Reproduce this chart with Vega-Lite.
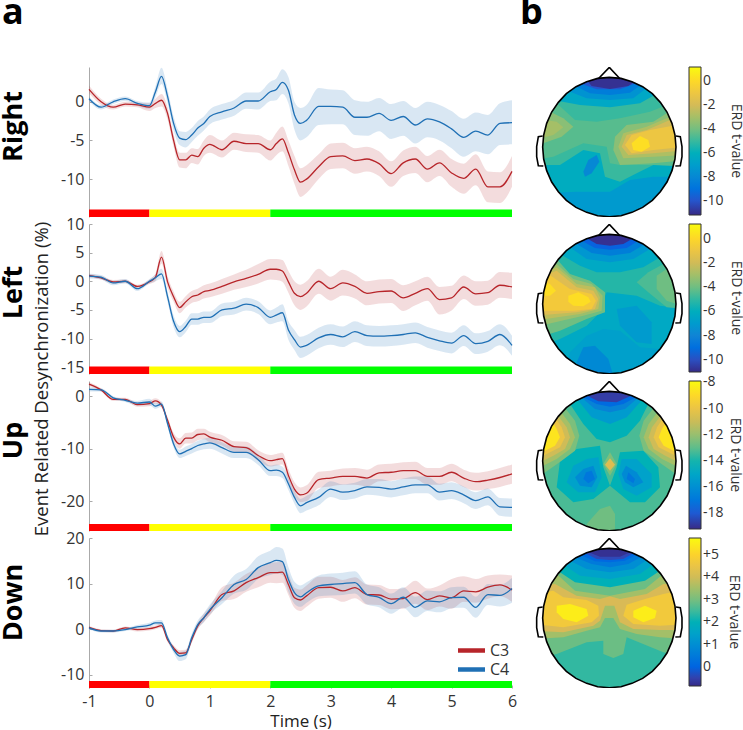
{"$schema":"https://vega.github.io/schema/vega-lite/v6.json","padding":{"left":-1,"top":-5,"right":0,"bottom":0},"background":"white","bounds":"flush","align":"each","columns":2,"spacing":{"row":7,"column":18},
"config":{"view":{"stroke":null},"font":"Open Sans","title":{"font":"Open Sans","fontWeight":"bold","fontSize":36,"color":"#000"},"axis":{"labelFont":"Open Sans","titleFont":"Open Sans","labelFontSize":16,"labelColor":"#333","titleColor":"#000","domainColor":"#aaa","tickColor":"#aaa","tickSize":-3,"grid":false,"labelPadding":8},"legend":{"labelFont":"Open Sans","titleFont":"Open Sans"}},
"datasets":{
"st":[{"s":-1,"e":0,"c":"#ff0000"},{"s":0,"e":2,"c":"#ffff00"},{"s":2,"e":6,"c":"#00ff00"}],
"mask":[{"type":"Feature","properties":{},"geometry":{"type":"Polygon","coordinates":[[[33,43],[33,487],[503,487],[503,43],[33,43]],[[468,265],[465,301],[456,336],[441,370],[421,399],[397,425],[368,446],[336,461],[303,471],[268,474],[233,471],[200,461],[168,446],[139,425],[115,399],[95,370],[80,336],[71,301],[68,265],[71,229],[80,194],[95,160],[115,131],[139,105],[168,84],[200,69],[233,59],[268,56],[303,59],[336,69],[368,84],[397,105],[421,131],[441,160],[456,194],[465,229],[468,265]]]}}],
"head":[{"type":"Feature","properties":{},"geometry":{"type":"LineString","coordinates":[[468,265],[465,301],[456,336],[441,370],[421,399],[397,425],[368,446],[336,461],[303,471],[268,474],[233,471],[200,461],[168,446],[139,425],[115,399],[95,370],[80,336],[71,301],[68,265],[71,229],[80,194],[95,160],[115,131],[139,105],[168,84],[200,69],[233,59],[268,56],[303,59],[336,69],[368,84],[397,105],[421,131],[441,160],[456,194],[465,229],[468,265]]}},
{"type":"Feature","properties":{},"geometry":{"type":"LineString","coordinates":[[235,60],[268,26],[300,60]]}},
{"type":"Feature","properties":{},"geometry":{"type":"LineString","coordinates":[[68,232],[55,234],[50,264],[50,294],[55,321],[70,322]]}},
{"type":"Feature","properties":{},"geometry":{"type":"LineString","coordinates":[[468,232],[481,234],[486,264],[486,294],[481,321],[466,322]]}}],
"right":[{"t":-1,"a":1.6,"al":1.1,"ah":2.1,"b":0.4,"bl":0.1,"bh":0.7},{"t":-0.8,"a":0,"al":-0.4,"ah":0.4,"b":-0.7,"bl":-1,"bh":-0.4},{"t":-0.6,"a":-0.7,"al":-1,"ah":-0.4,"b":0,"bl":-0.3,"bh":0.3},{"t":-0.4,"a":-0.3,"al":-0.6,"ah":0,"b":0.4,"bl":0.1,"bh":0.7},{"t":-0.2,"a":-0.4,"al":-0.7,"ah":-0.1,"b":-0.2,"bl":-0.5,"bh":0.1},{"t":0,"a":-0.7,"al":-1.2,"ah":-0.2,"b":-0.5,"bl":-0.9,"bh":-0.1},{"t":0.1,"a":-0.2,"al":-0.8,"ah":0.4,"b":1.3,"bl":0.6,"bh":2},{"t":0.2,"a":0.2,"al":-0.6,"ah":1,"b":3.3,"bl":2.3,"bh":4.4},{"t":0.3,"a":-1.5,"al":-2.3,"ah":-0.7,"b":0.7,"bl":-0.2,"bh":1.6},{"t":0.4,"a":-5,"al":-5.8,"ah":-4.2,"b":-2.8,"bl":-3.7,"bh":-1.9},{"t":0.5,"a":-7.5,"al":-8.5,"ah":-6.6,"b":-4.7,"bl":-5.6,"bh":-3.8},{"t":0.6,"a":-7.5,"al":-8.6,"ah":-6.6,"b":-4.9,"bl":-5.9,"bh":-3.9},{"t":0.7,"a":-6.9,"al":-7.9,"ah":-6,"b":-4.3,"bl":-5.2,"bh":-3.4},{"t":0.8,"a":-7.1,"al":-8.1,"ah":-6.1,"b":-3.4,"bl":-4.4,"bh":-2.5},{"t":0.9,"a":-6,"al":-7,"ah":-5,"b":-2.8,"bl":-3.7,"bh":-1.9},{"t":1,"a":-5.5,"al":-6.6,"ah":-4.3,"b":-1.9,"bl":-2.9,"bh":-1},{"t":1.2,"a":-6.2,"al":-7.2,"ah":-5,"b":-1.3,"bl":-2.3,"bh":-0.3},{"t":1.4,"a":-5.1,"al":-6.2,"ah":-4,"b":-0.8,"bl":-1.8,"bh":0.2},{"t":1.6,"a":-5.4,"al":-6.5,"ah":-4.2,"b":0.1,"bl":-0.9,"bh":1.2},{"t":1.8,"a":-5.4,"al":-6.6,"ah":-4.3,"b":0.1,"bl":-1,"bh":1.2},{"t":2,"a":-6.2,"al":-7.6,"ah":-5,"b":1.3,"bl":0.1,"bh":2.6},{"t":2.1,"a":-5.4,"al":-6.9,"ah":-4,"b":1.6,"bl":0.2,"bh":3},{"t":2.2,"a":-4.8,"al":-6.4,"ah":-3.2,"b":2.5,"bl":1,"bh":4.2},{"t":2.3,"a":-6.6,"al":-8.3,"ah":-5,"b":1.5,"bl":-0.2,"bh":3.2},{"t":2.4,"a":-8.8,"al":-10.6,"ah":-7,"b":-1.7,"bl":-3.6,"bh":0},{"t":2.5,"a":-10.4,"al":-12.3,"ah":-8.6,"b":-2.8,"bl":-5,"bh":-0.8},{"t":2.6,"a":-10,"al":-11.8,"ah":-8.2,"b":-2.4,"bl":-4.6,"bh":-0.4},{"t":2.8,"a":-8.4,"al":-10,"ah":-6.8,"b":-0.6,"bl":-3,"bh":1.8},{"t":3,"a":-7.1,"al":-8.7,"ah":-5.4,"b":-0.6,"bl":-2.9,"bh":1.6},{"t":3.2,"a":-7,"al":-8.6,"ah":-5.3,"b":-0.7,"bl":-2.9,"bh":1.5},{"t":3.4,"a":-7.6,"al":-9.3,"ah":-6,"b":-2,"bl":-4.3,"bh":0.2},{"t":3.6,"a":-7.4,"al":-9,"ah":-5.8,"b":-2,"bl":-4.4,"bh":0},{"t":3.8,"a":-8,"al":-9.6,"ah":-6.4,"b":-1.5,"bl":-3.8,"bh":0.5},{"t":4,"a":-9.3,"al":-11,"ah":-7.7,"b":-2.4,"bl":-4.8,"bh":-0.3},{"t":4.2,"a":-7.9,"al":-9.6,"ah":-6.3,"b":-1.9,"bl":-4.4,"bh":0.1},{"t":4.4,"a":-7.4,"al":-9.2,"ah":-5.8,"b":-3,"bl":-5.4,"bh":-0.8},{"t":4.6,"a":-8.7,"al":-10.4,"ah":-7,"b":-2.2,"bl":-4.6,"bh":0},{"t":4.8,"a":-7.9,"al":-9.6,"ah":-6.2,"b":-2.6,"bl":-5,"bh":-0.4},{"t":5,"a":-9.2,"al":-11,"ah":-7.4,"b":-3.5,"bl":-6,"bh":-1.2},{"t":5.2,"a":-9.9,"al":-11.9,"ah":-8,"b":-4.6,"bl":-7.1,"bh":-2.2},{"t":5.4,"a":-8.7,"al":-10.8,"ah":-6.8,"b":-3.8,"bl":-6.4,"bh":-1.4},{"t":5.6,"a":-11,"al":-13,"ah":-9,"b":-4.3,"bl":-6.8,"bh":-1.7},{"t":5.8,"a":-11,"al":-13.1,"ah":-9.1,"b":-2.8,"bl":-5.6,"bh":-0.2},{"t":6,"a":-9,"al":-11,"ah":-7,"b":-2.7,"bl":-5.5,"bh":0.2}],
"left":[{"t":-1,"a":1,"al":0.7,"ah":1.3,"b":0.9,"bl":0.5,"bh":1.3},{"t":-0.8,"a":0.6,"al":0.3,"ah":0.9,"b":0.7,"bl":0.3,"bh":1.1},{"t":-0.6,"a":-0.1,"al":-0.4,"ah":0.2,"b":-0.3,"bl":-0.7,"bh":0.1},{"t":-0.4,"a":0,"al":-0.3,"ah":0.3,"b":0,"bl":-0.4,"bh":0.4},{"t":-0.2,"a":-0.9,"al":-1.2,"ah":-0.6,"b":-1.3,"bl":-1.7,"bh":-0.9},{"t":0,"a":-0.1,"al":-0.5,"ah":0.3,"b":0,"bl":-0.4,"bh":0.4},{"t":0.1,"a":0.7,"al":0,"ah":1.4,"b":0.6,"bl":0,"bh":1.2},{"t":0.2,"a":4.2,"al":3.1,"ah":5.3,"b":1.3,"bl":0.4,"bh":2.2},{"t":0.3,"a":-0.1,"al":-1.1,"ah":0.9,"b":-2.7,"bl":-3.6,"bh":-1.8},{"t":0.4,"a":-2.7,"al":-3.6,"ah":-1.8,"b":-7,"bl":-8,"bh":-6},{"t":0.5,"a":-4.6,"al":-5.6,"ah":-3.6,"b":-8.8,"bl":-9.8,"bh":-7.8},{"t":0.6,"a":-3.6,"al":-4.6,"ah":-2.6,"b":-7.9,"bl":-8.9,"bh":-6.9},{"t":0.7,"a":-2.7,"al":-3.8,"ah":-1.7,"b":-6.6,"bl":-7.6,"bh":-5.6},{"t":0.8,"a":-2.4,"al":-3.5,"ah":-1.3,"b":-6.6,"bl":-7.6,"bh":-5.6},{"t":0.9,"a":-1.8,"al":-3,"ah":-0.7,"b":-6.3,"bl":-7.3,"bh":-5.3},{"t":1,"a":-1.6,"al":-2.8,"ah":-0.4,"b":-6.3,"bl":-7.3,"bh":-5.3},{"t":1.2,"a":-0.9,"al":-2.2,"ah":0.4,"b":-5,"bl":-6.1,"bh":-3.9},{"t":1.4,"a":-0.1,"al":-1.5,"ah":1.2,"b":-4.7,"bl":-5.8,"bh":-3.6},{"t":1.6,"a":0.5,"al":-1,"ah":2,"b":-4,"bl":-5.1,"bh":-2.9},{"t":1.8,"a":1.2,"al":-0.4,"ah":3,"b":-4.6,"bl":-5.7,"bh":-3.5},{"t":2,"a":2.1,"al":0.3,"ah":3.9,"b":-6.3,"bl":-7.5,"bh":-5.1},{"t":2.1,"a":2.1,"al":0.2,"ah":3.9,"b":-5.9,"bl":-7.2,"bh":-4.6},{"t":2.2,"a":1.8,"al":-0.1,"ah":3.7,"b":-5.5,"bl":-7,"bh":-4},{"t":2.3,"a":-0.1,"al":-2,"ah":1.8,"b":-8.5,"bl":-10.2,"bh":-7},{"t":2.4,"a":-2.1,"al":-4.2,"ah":0,"b":-10.2,"bl":-12,"bh":-8.5},{"t":2.5,"a":-2.7,"al":-5,"ah":-0.6,"b":-11.5,"bl":-13.4,"bh":-9.7},{"t":2.6,"a":-2.1,"al":-4.4,"ah":0,"b":-11.2,"bl":-13,"bh":-9.4},{"t":2.8,"a":0,"al":-2.2,"ah":2.2,"b":-9.9,"bl":-11.7,"bh":-8.1},{"t":3,"a":-1.3,"al":-3.4,"ah":0.8,"b":-9.3,"bl":-11.1,"bh":-7.5},{"t":3.2,"a":-0.3,"al":-2.5,"ah":2,"b":-9.7,"bl":-11.5,"bh":-7.9},{"t":3.4,"a":-0.9,"al":-3,"ah":1.2,"b":-8.8,"bl":-10.6,"bh":-7},{"t":3.6,"a":-2.1,"al":-4.2,"ah":0,"b":-9.5,"bl":-11.3,"bh":-7.7},{"t":3.8,"a":-1.8,"al":-3.9,"ah":0.3,"b":-9.6,"bl":-11.4,"bh":-7.8},{"t":4,"a":-1.7,"al":-3.8,"ah":0.4,"b":-9.5,"bl":-11.3,"bh":-7.7},{"t":4.2,"a":-2.9,"al":-5.2,"ah":-0.7,"b":-9.3,"bl":-11.1,"bh":-7.5},{"t":4.4,"a":-2.1,"al":-4.2,"ah":0,"b":-9,"bl":-10.8,"bh":-7.2},{"t":4.6,"a":-1.3,"al":-3.4,"ah":0.8,"b":-9.8,"bl":-11.6,"bh":-8},{"t":4.8,"a":-3.2,"al":-5.8,"ah":-1,"b":-10.4,"bl":-12.2,"bh":-8.6},{"t":5,"a":-2.9,"al":-5.1,"ah":-0.8,"b":-10.8,"bl":-12.6,"bh":-9},{"t":5.2,"a":-1,"al":-3.1,"ah":1,"b":-9.5,"bl":-11.3,"bh":-7.7},{"t":5.4,"a":-2.2,"al":-4.3,"ah":0,"b":-10.9,"bl":-12.7,"bh":-9.1},{"t":5.6,"a":-2,"al":-4.1,"ah":0.1,"b":-10.5,"bl":-12.3,"bh":-8.7},{"t":5.8,"a":-0.7,"al":-2.9,"ah":1.6,"b":-9.3,"bl":-11.2,"bh":-7.5},{"t":6,"a":-1,"al":-3.1,"ah":1.5,"b":-11.2,"bl":-13,"bh":-9.5}],
"up":[{"t":-1,"a":2.3,"al":1.9,"ah":2.7,"b":1.3,"bl":0.9,"bh":1.7},{"t":-0.8,"a":1.2,"al":0.9,"ah":1.5,"b":1.2,"bl":0.9,"bh":1.5},{"t":-0.6,"a":-0.6,"al":-0.9,"ah":-0.3,"b":-0.3,"bl":-0.6,"bh":0},{"t":-0.4,"a":-0.6,"al":-0.9,"ah":-0.3,"b":-0.8,"bl":-1.1,"bh":-0.5},{"t":-0.2,"a":-1.6,"al":-2,"ah":-1.2,"b":-1.3,"bl":-1.7,"bh":-0.9},{"t":0,"a":-1.4,"al":-1.9,"ah":-0.9,"b":-1.1,"bl":-1.7,"bh":-0.5},{"t":0.1,"a":-0.9,"al":-1.4,"ah":-0.4,"b":-1.9,"bl":-2.4,"bh":-1.3},{"t":0.2,"a":-1.7,"al":-2.2,"ah":-1.2,"b":-1.5,"bl":-2,"bh":-1},{"t":0.3,"a":-4.6,"al":-5.2,"ah":-4,"b":-5.2,"bl":-5.8,"bh":-4.6},{"t":0.4,"a":-7.8,"al":-8.6,"ah":-7,"b":-9.1,"bl":-9.8,"bh":-8.4},{"t":0.5,"a":-9.1,"al":-10,"ah":-8,"b":-11,"bl":-11.8,"bh":-10.2},{"t":0.6,"a":-8,"al":-9,"ah":-7,"b":-10.5,"bl":-11.4,"bh":-9.6},{"t":0.7,"a":-8,"al":-9,"ah":-6.9,"b":-10,"bl":-10.9,"bh":-9.1},{"t":0.8,"a":-7.3,"al":-8.4,"ah":-6.2,"b":-9.4,"bl":-10.4,"bh":-8.5},{"t":0.9,"a":-7.2,"al":-8.2,"ah":-6.2,"b":-9.1,"bl":-10.1,"bh":-8.1},{"t":1,"a":-7.8,"al":-8.8,"ah":-6.8,"b":-8.9,"bl":-10,"bh":-7.9},{"t":1.2,"a":-8.4,"al":-9.4,"ah":-7.4,"b":-9.8,"bl":-10.9,"bh":-8.8},{"t":1.4,"a":-9.6,"al":-10.6,"ah":-8.6,"b":-10.7,"bl":-11.8,"bh":-9.7},{"t":1.6,"a":-9.8,"al":-10.8,"ah":-8.7,"b":-10.7,"bl":-11.8,"bh":-9.6},{"t":1.8,"a":-11.3,"al":-12.3,"ah":-10.3,"b":-12.1,"bl":-13.1,"bh":-11.1},{"t":2,"a":-12.3,"al":-13.4,"ah":-11.2,"b":-14.2,"bl":-15.2,"bh":-13.2},{"t":2.1,"a":-12.1,"al":-13.2,"ah":-11,"b":-14.1,"bl":-15.2,"bh":-13},{"t":2.2,"a":-11.9,"al":-13,"ah":-10.8,"b":-14.5,"bl":-15.6,"bh":-13.4},{"t":2.3,"a":-15.1,"al":-16.3,"ah":-13.9,"b":-16.7,"bl":-17.9,"bh":-15.5},{"t":2.4,"a":-17.7,"al":-19,"ah":-16.4,"b":-19.3,"bl":-20.5,"bh":-18},{"t":2.5,"a":-18.8,"al":-20.2,"ah":-17.4,"b":-20.9,"bl":-22.3,"bh":-19.6},{"t":2.6,"a":-18.5,"al":-20,"ah":-17,"b":-20.3,"bl":-21.8,"bh":-19},{"t":2.8,"a":-15.9,"al":-17.5,"ah":-14.4,"b":-19.3,"bl":-20.8,"bh":-17.8},{"t":3,"a":-15.6,"al":-17.2,"ah":-14.2,"b":-17.7,"bl":-19.2,"bh":-16.2},{"t":3.2,"a":-15.3,"al":-16.9,"ah":-13.8,"b":-18.3,"bl":-19.8,"bh":-16.8},{"t":3.4,"a":-15.3,"al":-16.9,"ah":-13.7,"b":-18,"bl":-19.5,"bh":-16.5},{"t":3.6,"a":-15.6,"al":-17.2,"ah":-14,"b":-17.3,"bl":-18.8,"bh":-15.8},{"t":3.8,"a":-14.6,"al":-16.2,"ah":-13,"b":-17.4,"bl":-19,"bh":-15.8},{"t":4,"a":-14.5,"al":-16.1,"ah":-12.9,"b":-17.7,"bl":-19.3,"bh":-16.2},{"t":4.2,"a":-14.2,"al":-15.8,"ah":-12.6,"b":-17.3,"bl":-18.9,"bh":-15.7},{"t":4.4,"a":-14.2,"al":-15.8,"ah":-12.5,"b":-16.9,"bl":-18.5,"bh":-15.3},{"t":4.6,"a":-15.3,"al":-16.9,"ah":-13.7,"b":-16.9,"bl":-18.5,"bh":-15.3},{"t":4.8,"a":-15.3,"al":-16.9,"ah":-13.7,"b":-18.3,"bl":-19.9,"bh":-16.7},{"t":5,"a":-14.5,"al":-16.2,"ah":-12.9,"b":-18,"bl":-19.6,"bh":-16.4},{"t":5.2,"a":-15.6,"al":-17.3,"ah":-14,"b":-18.8,"bl":-20.4,"bh":-17.2},{"t":5.4,"a":-16.3,"al":-18,"ah":-14.6,"b":-19.9,"bl":-21.5,"bh":-18.3},{"t":5.6,"a":-16,"al":-17.7,"ah":-14.3,"b":-19.2,"bl":-20.8,"bh":-17.6},{"t":5.8,"a":-15.5,"al":-17.3,"ah":-13.7,"b":-21.1,"bl":-22.8,"bh":-19.4},{"t":6,"a":-14.8,"al":-16.7,"ah":-13,"b":-21.2,"bl":-23,"bh":-19.5}],
"down":[{"t":-1,"a":0.4,"al":0.1,"ah":0.7,"b":0.3,"bl":0,"bh":0.6},{"t":-0.8,"a":-0.3,"al":-0.6,"ah":0,"b":-0.4,"bl":-0.7,"bh":-0.1},{"t":-0.6,"a":-0.4,"al":-0.7,"ah":-0.1,"b":-0.4,"bl":-0.7,"bh":-0.1},{"t":-0.4,"a":0.3,"al":0,"ah":0.6,"b":-0.1,"bl":-0.4,"bh":0.2},{"t":-0.2,"a":-0.1,"al":-0.5,"ah":0.3,"b":0.5,"bl":0.1,"bh":0.9},{"t":0,"a":0.1,"al":-0.3,"ah":0.5,"b":0.9,"bl":0.4,"bh":1.4},{"t":0.1,"a":0.4,"al":0,"ah":0.8,"b":1.4,"bl":0.9,"bh":1.9},{"t":0.2,"a":0.8,"al":0.3,"ah":1.3,"b":1.4,"bl":0.8,"bh":2},{"t":0.3,"a":-2.3,"al":-2.8,"ah":-1.8,"b":-1.9,"bl":-2.5,"bh":-1.3},{"t":0.4,"a":-4.1,"al":-4.7,"ah":-3.5,"b":-4.5,"bl":-5.2,"bh":-3.8},{"t":0.5,"a":-5.3,"al":-6,"ah":-4.6,"b":-5.9,"bl":-7,"bh":-5},{"t":0.6,"a":-5.2,"al":-5.9,"ah":-4.5,"b":-5.6,"bl":-6.6,"bh":-4.7},{"t":0.7,"a":-2.3,"al":-3,"ah":-1.6,"b":-1.9,"bl":-2.8,"bh":-1},{"t":0.8,"a":0.7,"al":0,"ah":1.4,"b":1,"bl":0.1,"bh":1.9},{"t":0.9,"a":2.5,"al":1.6,"ah":3.4,"b":2.5,"bl":1.5,"bh":3.5},{"t":1,"a":4,"al":3,"ah":5,"b":4.3,"bl":3.2,"bh":5.4},{"t":1.2,"a":7.6,"al":6.2,"ah":9.2,"b":6.9,"bl":5.5,"bh":8.4},{"t":1.4,"a":8.4,"al":6.6,"ah":10.2,"b":9.8,"bl":7.8,"bh":11.8},{"t":1.6,"a":10.2,"al":8.2,"ah":12.1,"b":10.9,"bl":8.6,"bh":13.2},{"t":1.8,"a":11.3,"al":9.2,"ah":13.3,"b":13.5,"bl":11,"bh":16},{"t":2,"a":12.4,"al":10.2,"ah":14.6,"b":14.6,"bl":11.9,"bh":17.2},{"t":2.1,"a":12.4,"al":10.1,"ah":14.7,"b":15.1,"bl":12.2,"bh":18},{"t":2.2,"a":12.5,"al":10.2,"ah":14.8,"b":14.8,"bl":11.9,"bh":17.7},{"t":2.3,"a":9.8,"al":7.5,"ah":12.1,"b":10.9,"bl":8.2,"bh":13.6},{"t":2.4,"a":6.9,"al":4.7,"ah":9.1,"b":8,"bl":5.6,"bh":10.4},{"t":2.5,"a":6.4,"al":4,"ah":8.7,"b":7.1,"bl":4.9,"bh":9.6},{"t":2.6,"a":7.3,"al":4.9,"ah":9.6,"b":8,"bl":5.8,"bh":10.3},{"t":2.8,"a":9.1,"al":6.7,"ah":11.5,"b":9.5,"bl":7.2,"bh":11.8},{"t":3,"a":9.2,"al":6.9,"ah":11.5,"b":9.8,"bl":7.4,"bh":12.2},{"t":3.2,"a":8.4,"al":6,"ah":10.8,"b":10,"bl":7.5,"bh":12.4},{"t":3.4,"a":9.1,"al":6.8,"ah":11.4,"b":10.2,"bl":7.8,"bh":12.7},{"t":3.6,"a":7.6,"al":5.4,"ah":9.8,"b":7.6,"bl":5.4,"bh":9.8},{"t":3.8,"a":7.5,"al":5.3,"ah":9.7,"b":7,"bl":4.8,"bh":9.2},{"t":4,"a":6.6,"al":4.4,"ah":8.8,"b":5.6,"bl":3.4,"bh":7.8},{"t":4.2,"a":6.7,"al":4.5,"ah":9,"b":7,"bl":4.7,"bh":9.2},{"t":4.4,"a":8,"al":5.6,"ah":10.6,"b":4.8,"bl":2.6,"bh":7.1},{"t":4.6,"a":6.5,"al":4.2,"ah":8.9,"b":6.2,"bl":4,"bh":8.5},{"t":4.8,"a":7.3,"al":5,"ah":9.6,"b":6,"bl":3.7,"bh":8.3},{"t":5,"a":6.9,"al":4.5,"ah":11,"b":6.9,"bl":4.6,"bh":9.2},{"t":5.2,"a":8.4,"al":6,"ah":11.6,"b":7,"bl":4.7,"bh":9.3},{"t":5.4,"a":8.2,"al":5.8,"ah":11,"b":4.8,"bl":2.5,"bh":7.1},{"t":5.6,"a":9.2,"al":6.7,"ah":11.8,"b":7.6,"bl":5.3,"bh":9.9},{"t":5.8,"a":9.7,"al":7.2,"ah":12,"b":7.4,"bl":5,"bh":9.8},{"t":6,"a":8.6,"al":6,"ah":11.8,"b":8.9,"bl":5.8,"bh":11.2}],
"m1":[{"type":"Feature","properties":{"v":-5},"geometry":{"type":"Polygon","coordinates":[[[40,45],[500,45],[500,485],[40,485],[40,45]]]}},{"type":"Feature","properties":{"v":-6.2},"geometry":{"type":"Polygon","coordinates":[[[40,319],[120,319],[190,274],[240,284],[255,354],[300,369],[350,344],[400,319],[500,309],[500,485],[40,485],[40,319]]]}},{"type":"Feature","properties":{"v":-7.2},"geometry":{"type":"Polygon","coordinates":[[[70,404],[170,399],[270,399],[330,364],[400,354],[500,354],[500,485],[70,485],[70,404]]]}},{"type":"Feature","properties":{"v":-8},"geometry":{"type":"Polygon","coordinates":[[[230,289],[238,309],[215,344],[195,354],[190,339],[205,304],[230,289]]]}},{"type":"Feature","properties":{"v":-4.5},"geometry":{"type":"Polygon","coordinates":[[[40,154],[110,134],[165,184],[230,189],[300,179],[390,159],[440,139],[500,144],[500,324],[400,319],[300,319],[270,314],[260,264],[190,254],[100,294],[40,304],[40,154]]]}},{"type":"Feature","properties":{"v":-3.6},"geometry":{"type":"Polygon","coordinates":[[[40,169],[90,159],[130,179],[160,204],[125,234],[40,264],[40,169]]]}},{"type":"Feature","properties":{"v":-3},"geometry":{"type":"Polygon","coordinates":[[[40,179],[110,189],[130,206],[100,229],[40,244],[40,179]]]}},{"type":"Feature","properties":{"v":-3.6},"geometry":{"type":"Polygon","coordinates":[[[440,164],[400,189],[320,199],[285,234],[280,274],[300,319],[400,314],[500,304],[500,164],[440,164]]]}},{"type":"Feature","properties":{"v":-2.8},"geometry":{"type":"Polygon","coordinates":[[[440,179],[380,204],[310,224],[295,264],[310,299],[400,294],[500,289],[500,174],[440,179]]]}},{"type":"Feature","properties":{"v":-2},"geometry":{"type":"Polygon","coordinates":[[[450,184],[380,214],[320,229],[305,264],[325,289],[400,284],[500,274],[500,189],[450,184]]]}},{"type":"Feature","properties":{"v":-1},"geometry":{"type":"Polygon","coordinates":[[[470,199],[390,214],[335,229],[315,259],[335,284],[400,274],[500,264],[500,199],[470,199]]]}},{"type":"Feature","properties":{"v":0.2},"geometry":{"type":"Polygon","coordinates":[[[360,232],[385,244],[390,264],[365,279],[340,274],[335,254],[360,232]]]}},{"type":"Feature","properties":{"v":-6.5},"geometry":{"type":"Polygon","coordinates":[[[100,124],[180,139],[270,146],[360,134],[420,100],[420,45],[100,45],[100,124]]]}},{"type":"Feature","properties":{"v":-7.5},"geometry":{"type":"Polygon","coordinates":[[[150,99],[200,119],[270,124],[340,119],[385,84],[385,45],[150,45],[150,99]]]}},{"type":"Feature","properties":{"v":-8.5},"geometry":{"type":"Polygon","coordinates":[[[170,84],[210,104],[270,109],[330,102],[370,74],[370,45],[170,45],[170,84]]]}},{"type":"Feature","properties":{"v":-10},"geometry":{"type":"Polygon","coordinates":[[[180,74],[230,92],[300,92],[360,69],[360,45],[180,45],[180,74]]]}},{"type":"Feature","properties":{"v":-11},"geometry":{"type":"Polygon","coordinates":[[[195,59],[215,82],[270,91],[325,82],[350,64],[340,45],[195,45],[195,59]]]}}],
"m2":[{"type":"Feature","properties":{"v":-5.2},"geometry":{"type":"Polygon","coordinates":[[[40,45],[500,45],[500,485],[40,485],[40,45]]]}},{"type":"Feature","properties":{"v":-6.3},"geometry":{"type":"Polygon","coordinates":[[[230,300],[260,230],[350,240],[420,270],[500,280],[500,485],[40,485],[40,400],[120,370],[200,330],[230,300]]]}},{"type":"Feature","properties":{"v":-6.8},"geometry":{"type":"Polygon","coordinates":[[[250,340],[300,345],[360,395],[420,400],[400,485],[130,485],[150,410],[200,360],[250,340]]]}},{"type":"Feature","properties":{"v":-7},"geometry":{"type":"Polygon","coordinates":[[[290,280],[350,270],[395,320],[395,385],[350,380],[300,330],[290,280]]]}},{"type":"Feature","properties":{"v":-7.8},"geometry":{"type":"Polygon","coordinates":[[[170,440],[190,395],[225,390],[265,430],[280,480],[170,480],[170,440]]]}},{"type":"Feature","properties":{"v":-4},"geometry":{"type":"Polygon","coordinates":[[[110,130],[150,175],[210,195],[255,230],[255,290],[200,310],[120,345],[40,370],[40,190],[110,130]]]}},{"type":"Feature","properties":{"v":-3.2},"geometry":{"type":"Polygon","coordinates":[[[110,145],[160,190],[215,205],[248,240],[245,285],[190,300],[40,335],[40,200],[110,145]]]}},{"type":"Feature","properties":{"v":-2.4},"geometry":{"type":"Polygon","coordinates":[[[110,155],[170,205],[225,215],[240,245],[235,280],[180,295],[40,315],[40,190],[110,155]]]}},{"type":"Feature","properties":{"v":-1.6},"geometry":{"type":"Polygon","coordinates":[[[110,165],[170,215],[220,225],[235,250],[225,280],[170,290],[40,300],[40,190],[110,165]]]}},{"type":"Feature","properties":{"v":-0.7},"geometry":{"type":"Polygon","coordinates":[[[85,175],[150,220],[215,235],[228,255],[215,280],[160,285],[40,285],[40,190],[85,175]]]}},{"type":"Feature","properties":{"v":0.2},"geometry":{"type":"Polygon","coordinates":[[[145,240],[175,230],[205,245],[212,258],[190,272],[160,270],[145,258],[145,240]]]}},{"type":"Feature","properties":{"v":0.2},"geometry":{"type":"Polygon","coordinates":[[[70,200],[90,205],[108,225],[90,240],[70,240],[70,200]]]}},{"type":"Feature","properties":{"v":-4.6},"geometry":{"type":"Polygon","coordinates":[[[440,140],[385,170],[350,200],[385,230],[440,275],[500,280],[500,140],[440,140]]]}},{"type":"Feature","properties":{"v":-4},"geometry":{"type":"Polygon","coordinates":[[[440,160],[410,180],[410,220],[440,255],[470,265],[500,250],[500,170],[440,160]]]}},{"type":"Feature","properties":{"v":-6.3},"geometry":{"type":"Polygon","coordinates":[[[120,115],[180,150],[230,170],[300,170],[370,155],[420,125],[420,45],[120,45],[120,115]]]}},{"type":"Feature","properties":{"v":-7.2},"geometry":{"type":"Polygon","coordinates":[[[150,95],[200,130],[270,140],[340,130],[390,100],[390,45],[150,45],[150,95]]]}},{"type":"Feature","properties":{"v":-8.3},"geometry":{"type":"Polygon","coordinates":[[[170,85],[215,112],[270,120],[330,112],[375,85],[375,45],[170,45],[170,85]]]}},{"type":"Feature","properties":{"v":-9.5},"geometry":{"type":"Polygon","coordinates":[[[185,75],[225,97],[270,102],[320,97],[360,72],[360,45],[185,45],[185,75]]]}},{"type":"Feature","properties":{"v":-10.8},"geometry":{"type":"Polygon","coordinates":[[[195,65],[230,85],[270,90],[310,85],[345,65],[345,45],[195,45],[195,65]]]}}],
"m3":[{"type":"Feature","properties":{"v":-13.3},"geometry":{"type":"Polygon","coordinates":[[[40,45],[500,45],[500,485],[40,485],[40,45]]]}},{"type":"Feature","properties":{"v":-14.3},"geometry":{"type":"Polygon","coordinates":[[[240,219],[250,284],[270,339],[220,379],[160,389],[110,344],[120,264],[170,229],[240,219]]]}},{"type":"Feature","properties":{"v":-14.3},"geometry":{"type":"Polygon","coordinates":[[[300,239],[370,234],[415,284],[420,344],[375,389],[330,389],[270,339],[290,284],[300,239]]]}},{"type":"Feature","properties":{"v":-15.2},"geometry":{"type":"Polygon","coordinates":[[[235,254],[245,314],[225,359],[175,359],[140,329],[160,279],[200,259],[235,254]]]}},{"type":"Feature","properties":{"v":-15.2},"geometry":{"type":"Polygon","coordinates":[[[305,259],[350,259],[395,304],[395,344],[350,369],[310,349],[295,304],[305,259]]]}},{"type":"Feature","properties":{"v":-16.2},"geometry":{"type":"Polygon","coordinates":[[[220,279],[232,314],[215,344],[180,339],[165,314],[190,289],[220,279]]]}},{"type":"Feature","properties":{"v":-16.2},"geometry":{"type":"Polygon","coordinates":[[[318,279],[350,299],[370,329],[340,344],[315,329],[305,304],[318,279]]]}},{"type":"Feature","properties":{"v":-17},"geometry":{"type":"Polygon","coordinates":[[[215,294],[225,319],[205,332],[190,319],[198,299],[215,294]]]}},{"type":"Feature","properties":{"v":-17},"geometry":{"type":"Polygon","coordinates":[[[325,299],[345,319],[340,332],[320,319],[325,299]]]}},{"type":"Feature","properties":{"v":-12.5},"geometry":{"type":"Polygon","coordinates":[[[40,54],[130,99],[165,144],[178,189],[165,234],[125,264],[40,324],[40,54]]]}},{"type":"Feature","properties":{"v":-11.7},"geometry":{"type":"Polygon","coordinates":[[[40,94],[120,114],[150,154],[165,194],[150,229],[110,259],[40,294],[40,94]]]}},{"type":"Feature","properties":{"v":-10.9},"geometry":{"type":"Polygon","coordinates":[[[40,104],[110,124],[140,164],[150,194],[135,229],[100,249],[40,279],[40,104]]]}},{"type":"Feature","properties":{"v":-10},"geometry":{"type":"Polygon","coordinates":[[[40,114],[105,134],[125,164],[135,194],[120,224],[90,239],[40,264],[40,114]]]}},{"type":"Feature","properties":{"v":-8.6},"geometry":{"type":"Polygon","coordinates":[[[40,124],[95,144],[110,169],[120,194],[105,219],[75,234],[40,254],[40,124]]]}},{"type":"Feature","properties":{"v":-12.5},"geometry":{"type":"Polygon","coordinates":[[[496,54],[406,99],[371,144],[358,189],[371,234],[411,264],[496,324],[496,54]]]}},{"type":"Feature","properties":{"v":-11.7},"geometry":{"type":"Polygon","coordinates":[[[496,94],[416,114],[386,154],[371,194],[386,229],[426,259],[496,294],[496,94]]]}},{"type":"Feature","properties":{"v":-10.9},"geometry":{"type":"Polygon","coordinates":[[[496,104],[426,124],[396,164],[386,194],[401,229],[436,249],[496,279],[496,104]]]}},{"type":"Feature","properties":{"v":-10},"geometry":{"type":"Polygon","coordinates":[[[496,114],[431,134],[411,164],[401,194],[416,224],[446,239],[496,264],[496,114]]]}},{"type":"Feature","properties":{"v":-8.6},"geometry":{"type":"Polygon","coordinates":[[[496,124],[441,144],[426,169],[416,194],[431,219],[461,234],[496,254],[496,124]]]}},{"type":"Feature","properties":{"v":-14.3},"geometry":{"type":"Polygon","coordinates":[[[150,94],[190,154],[230,199],[270,209],[320,189],[360,144],[385,94],[385,45],[150,45],[150,94]]]}},{"type":"Feature","properties":{"v":-15.5},"geometry":{"type":"Polygon","coordinates":[[[175,84],[215,134],[270,154],[320,134],[360,89],[360,45],[175,45],[175,84]]]}},{"type":"Feature","properties":{"v":-16.5},"geometry":{"type":"Polygon","coordinates":[[[190,79],[225,109],[270,119],[315,109],[350,79],[350,45],[190,45],[190,79]]]}},{"type":"Feature","properties":{"v":-17.5},"geometry":{"type":"Polygon","coordinates":[[[190,74],[230,94],[270,102],[310,94],[348,74],[348,45],[190,45],[190,74]]]}},{"type":"Feature","properties":{"v":-18.7},"geometry":{"type":"Polygon","coordinates":[[[195,66],[235,86],[290,89],[340,66],[340,45],[195,45],[195,66]]]}},{"type":"Feature","properties":{"v":-12.5},"geometry":{"type":"Polygon","coordinates":[[[270,239],[290,274],[270,309],[250,274],[270,239]]]}},{"type":"Feature","properties":{"v":-10.5},"geometry":{"type":"Polygon","coordinates":[[[270,257],[285,276],[270,294],[255,276],[270,257]]]}},{"type":"Feature","properties":{"v":-12.7},"geometry":{"type":"Polygon","coordinates":[[[200,454],[240,409],[270,399],[285,424],[285,485],[200,485],[200,454]]]}}],
"m4":[{"type":"Feature","properties":{"v":2.4},"geometry":{"type":"Polygon","coordinates":[[[40,45],[500,45],[500,485],[40,485],[40,45]]]}},{"type":"Feature","properties":{"v":2.9},"geometry":{"type":"Polygon","coordinates":[[[40,393],[110,373],[200,338],[250,333],[250,373],[280,385],[310,373],[320,323],[430,368],[500,383],[500,103],[40,103],[40,393]]]}},{"type":"Feature","properties":{"v":3.5},"geometry":{"type":"Polygon","coordinates":[[[40,328],[130,323],[200,303],[240,293],[255,265],[280,265],[300,298],[350,313],[420,323],[500,328],[500,138],[430,133],[375,178],[270,198],[165,183],[110,133],[40,138],[40,328]]]}},{"type":"Feature","properties":{"v":4.1},"geometry":{"type":"Polygon","coordinates":[[[40,303],[130,308],[220,288],[240,273],[255,228],[283,228],[300,278],[340,298],[420,301],[500,301],[500,168],[430,163],[380,193],[300,208],[270,200],[240,208],[170,198],[105,163],[40,173],[40,303]]]}},{"type":"Feature","properties":{"v":4.7},"geometry":{"type":"Polygon","coordinates":[[[40,283],[130,293],[215,278],[237,258],[235,228],[200,211],[130,203],[100,183],[40,193],[40,283]]]}},{"type":"Feature","properties":{"v":4.7},"geometry":{"type":"Polygon","coordinates":[[[500,283],[420,288],[340,283],[310,258],[320,225],[375,208],[430,193],[500,178],[500,283]]]}},{"type":"Feature","properties":{"v":5.5},"geometry":{"type":"Polygon","coordinates":[[[110,228],[150,223],[200,238],[205,258],[170,278],[130,268],[110,248],[110,228]]]}},{"type":"Feature","properties":{"v":5.5},"geometry":{"type":"Polygon","coordinates":[[[340,243],[375,228],[410,243],[405,265],[370,278],[340,263],[340,243]]]}},{"type":"Feature","properties":{"v":2},"geometry":{"type":"Polygon","coordinates":[[[120,128],[165,158],[270,173],[375,153],[420,123],[420,45],[120,45],[120,128]]]}},{"type":"Feature","properties":{"v":1.5},"geometry":{"type":"Polygon","coordinates":[[[135,108],[180,138],[270,148],[360,133],[400,103],[400,45],[135,45],[135,108]]]}},{"type":"Feature","properties":{"v":1},"geometry":{"type":"Polygon","coordinates":[[[150,93],[200,118],[270,128],[340,118],[385,88],[385,45],[150,45],[150,93]]]}},{"type":"Feature","properties":{"v":0.5},"geometry":{"type":"Polygon","coordinates":[[[165,83],[215,103],[270,113],[325,103],[370,78],[370,45],[165,45],[165,83]]]}},{"type":"Feature","properties":{"v":0.1},"geometry":{"type":"Polygon","coordinates":[[[180,75],[225,95],[270,98],[315,93],[358,71],[358,45],[180,45],[180,75]]]}},{"type":"Feature","properties":{"v":-0.4},"geometry":{"type":"Polygon","coordinates":[[[190,68],[230,88],[270,91],[310,88],[345,68],[345,45],[190,45],[190,68]]]}},{"type":"Feature","properties":{"v":-0.75},"geometry":{"type":"Polygon","coordinates":[[[195,63],[240,81],[300,81],[340,63],[340,45],[195,45],[195,63]]]}}]
},
"concat":[
{"title":{"text":"a","anchor":"start","frame":"group","dx":-87,"offset":35},"width":423,"height":150,"data":{"name":"right"},"encoding":{"x":{"field":"t","type":"quantitative","title":null,"scale":{"domain":[-1,6],"nice":false},"axis":null}},"layer":[
{"mark":{"type":"area","opacity":0.16,"color":"#b7252a","interpolate":"monotone"},"encoding":{"y":{"field":"al","type":"quantitative","scale":{"domain":[-14.9,4.5],"nice":false,"zero":false},"axis":{"title":"Right","titleFontSize":27,"titleFontWeight":"bold","titleX":-62,"titleY":59,"values":[-10,-5,0],"labelOverlap":false,"labelExpr":"''+datum.value"}},"y2":{"field":"ah"}}},
{"mark":{"type":"area","opacity":0.17,"color":"#1f70b5","interpolate":"monotone"},"encoding":{"y":{"field":"bl","type":"quantitative"},"y2":{"field":"bh"}}},
{"mark":{"type":"line","strokeWidth":1.3,"color":"#b7252a","interpolate":"monotone"},"encoding":{"y":{"field":"a","type":"quantitative"}}},
{"mark":{"type":"line","strokeWidth":1.3,"color":"#1f70b5","interpolate":"monotone"},"encoding":{"y":{"field":"b","type":"quantitative"}}},
{"data":{"name":"st"},"mark":{"type":"rect"},"encoding":{"x":{"field":"s","type":"quantitative"},"x2":{"field":"e"},"y":{"datum":-14.9},"y2":{"datum":-13.93},"fill":{"field":"c","type":"nominal","scale":null}}}]},
{"title":{"text":"b","anchor":"start","frame":"group","dx":-10,"offset":35},"width":155,"height":150,"projection":{"type":"identity","scale":0.3333,"translate":[-10,-8.3]},"layer":[
{"data":{"name":"m1"},"mark":{"type":"geoshape","strokeWidth":0},"encoding":{"color":{"field":"properties.v","type":"quantitative","scale":{"domain":[-11.2,-9.65,-8.1,-6.55,-5,-3.45,-1.9,-0.35,1.2],"range":["#352A87","#0363E1","#1485D4","#06A7C6","#38B99E","#92BF73","#D9BA56","#FCCE2E","#F9FB0E"]},"legend":{"title":"ERD t-value","titleOrient":"right","titleAngle":90,"titlePadding":12,"titleFontSize":14,"titleFontWeight":"normal","titleColor":"#333","titleAnchor":"middle","titleBaseline":"middle","gradientLength":148,"gradientThickness":12,"gradientStrokeColor":"#333","gradientStrokeWidth":1,"values":[0,-2,-4,-6,-8,-10],"labelExpr":"''+datum.value","labelFontSize":14,"labelColor":"#333","offset":4,"padding":0}}}},
{"data":{"name":"mask"},"mark":{"type":"geoshape","fill":"white","strokeWidth":0}},
{"data":{"name":"head"},"mark":{"type":"geoshape","filled":false,"fill":null,"stroke":"#000","strokeWidth":1.6}}]},
{"title":{"text":"Event Related Desynchronization (%)","orient":"left","frame":"group","anchor":"middle","offset":-52,"dx":-80,"fontSize":18.5,"fontWeight":"normal","color":"#222"},"width":423,"height":150,"data":{"name":"left"},"encoding":{"x":{"field":"t","type":"quantitative","title":null,"scale":{"domain":[-1,6],"nice":false},"axis":null}},"layer":[
{"mark":{"type":"area","opacity":0.16,"color":"#b7252a","interpolate":"monotone"},"encoding":{"y":{"field":"al","type":"quantitative","scale":{"domain":[-16.2,10],"nice":false,"zero":false},"axis":{"title":"Left","titleFontSize":27,"titleFontWeight":"bold","titleX":-62,"titleY":68,"values":[10,5,0,-5,-10,-15],"tickCount":6,"labelOverlap":false,"labelExpr":"''+datum.value"}},"y2":{"field":"ah"}}},
{"mark":{"type":"area","opacity":0.17,"color":"#1f70b5","interpolate":"monotone"},"encoding":{"y":{"field":"bl","type":"quantitative"},"y2":{"field":"bh"}}},
{"mark":{"type":"line","strokeWidth":1.3,"color":"#b7252a","interpolate":"monotone"},"encoding":{"y":{"field":"a","type":"quantitative"}}},
{"mark":{"type":"line","strokeWidth":1.3,"color":"#1f70b5","interpolate":"monotone"},"encoding":{"y":{"field":"b","type":"quantitative"}}},
{"data":{"name":"st"},"mark":{"type":"rect"},"encoding":{"x":{"field":"s","type":"quantitative"},"x2":{"field":"e"},"y":{"datum":-16.2},"y2":{"datum":-14.9},"fill":{"field":"c","type":"nominal","scale":null}}}]},
{"width":155,"height":150,"projection":{"type":"identity","scale":0.3333,"translate":[-10,-9.3]},"layer":[
{"data":{"name":"m2"},"mark":{"type":"geoshape","strokeWidth":0},"encoding":{"color":{"field":"properties.v","type":"quantitative","scale":{"domain":[-11,-9.475,-7.95,-6.425,-4.9,-3.375,-1.85,-0.325,1.2],"range":["#352A87","#0363E1","#1485D4","#06A7C6","#38B99E","#92BF73","#D9BA56","#FCCE2E","#F9FB0E"]},"legend":{"title":"ERD t-value","titleOrient":"right","titleAngle":90,"titlePadding":12,"titleFontSize":14,"titleFontWeight":"normal","titleColor":"#333","titleAnchor":"middle","titleBaseline":"middle","gradientLength":148,"gradientThickness":12,"gradientStrokeColor":"#333","gradientStrokeWidth":1,"values":[0,-2,-4,-6,-8,-10],"labelExpr":"''+datum.value","labelFontSize":14,"labelColor":"#333","offset":4,"padding":0}}}},
{"data":{"name":"mask"},"mark":{"type":"geoshape","fill":"white","strokeWidth":0}},
{"data":{"name":"head"},"mark":{"type":"geoshape","filled":false,"fill":null,"stroke":"#000","strokeWidth":1.6}}]},
{"width":423,"height":150,"data":{"name":"up"},"encoding":{"x":{"field":"t","type":"quantitative","title":null,"scale":{"domain":[-1,6],"nice":false},"axis":null}},"layer":[
{"mark":{"type":"area","opacity":0.16,"color":"#b7252a","interpolate":"monotone"},"encoding":{"y":{"field":"al","type":"quantitative","scale":{"domain":[-25.7,2.9],"nice":false,"zero":false},"axis":{"title":"Up","titleFontSize":27,"titleFontWeight":"bold","titleX":-62,"titleY":59,"values":[0,-10,-20],"labelOverlap":false,"labelExpr":"''+datum.value"}},"y2":{"field":"ah"}}},
{"mark":{"type":"area","opacity":0.17,"color":"#1f70b5","interpolate":"monotone"},"encoding":{"y":{"field":"bl","type":"quantitative"},"y2":{"field":"bh"}}},
{"mark":{"type":"line","strokeWidth":1.3,"color":"#b7252a","interpolate":"monotone"},"encoding":{"y":{"field":"a","type":"quantitative"}}},
{"mark":{"type":"line","strokeWidth":1.3,"color":"#1f70b5","interpolate":"monotone"},"encoding":{"y":{"field":"b","type":"quantitative"}}},
{"data":{"name":"st"},"mark":{"type":"rect"},"encoding":{"x":{"field":"s","type":"quantitative"},"x2":{"field":"e"},"y":{"datum":-25.7},"y2":{"datum":-24.35},"fill":{"field":"c","type":"nominal","scale":null}}}]},
{"width":155,"height":150,"projection":{"type":"identity","scale":0.3333,"translate":[-10,-8.9]},"layer":[
{"data":{"name":"m3"},"mark":{"type":"geoshape","strokeWidth":0},"encoding":{"color":{"field":"properties.v","type":"quantitative","scale":{"domain":[-19.2,-17.79,-16.375,-14.96,-13.55,-12.14,-10.725,-9.31,-7.9],"range":["#352A87","#0363E1","#1485D4","#06A7C6","#38B99E","#92BF73","#D9BA56","#FCCE2E","#F9FB0E"]},"legend":{"title":"ERD t-value","titleOrient":"right","titleAngle":90,"titlePadding":11,"titleFontSize":14,"titleFontWeight":"normal","titleColor":"#333","titleAnchor":"middle","titleBaseline":"middle","gradientLength":148,"gradientThickness":12,"gradientStrokeColor":"#333","gradientStrokeWidth":1,"values":[-8,-10,-12,-14,-16,-18],"labelExpr":"''+datum.value","labelFontSize":14,"labelColor":"#333","offset":4,"padding":0}}}},
{"data":{"name":"mask"},"mark":{"type":"geoshape","fill":"white","strokeWidth":0}},
{"data":{"name":"head"},"mark":{"type":"geoshape","filled":false,"fill":null,"stroke":"#000","strokeWidth":1.6}}]},
{"width":423,"height":150,"data":{"name":"down"},"encoding":{"x":{"field":"t","type":"quantitative","scale":{"domain":[-1,6],"nice":false},"axis":{"title":"Time (s)","titleFontSize":17,"titleFontWeight":"normal","values":[-1,0,1,2,3,4,5,6],"tickCount":8,"labelOverlap":false,"labelExpr":"''+datum.value","domain":false,"titleColor":"#222","titlePadding":4,"labelFlush":false}}},"layer":[
{"mark":{"type":"area","opacity":0.16,"color":"#b7252a","interpolate":"monotone"},"encoding":{"y":{"field":"al","type":"quantitative","scale":{"domain":[-12.9,20],"nice":false,"zero":false},"axis":{"title":"Down","titleFontSize":27,"titleFontWeight":"bold","titleX":-62,"titleY":64,"values":[20,10,0,-10],"labelOverlap":false,"labelExpr":"''+datum.value"}},"y2":{"field":"ah"}}},
{"mark":{"type":"area","opacity":0.17,"color":"#1f70b5","interpolate":"monotone"},"encoding":{"y":{"field":"bl","type":"quantitative"},"y2":{"field":"bh"}}},
{"mark":{"type":"line","strokeWidth":1.3,"interpolate":"monotone"},"encoding":{"y":{"field":"a","type":"quantitative"},"color":{"datum":"C3","scale":{"domain":["C3","C4"],"range":["#b7252a","#1f70b5"]},"legend":{"title":null,"orient":"none","legendX":374,"legendY":104,"symbolType":"M-2.25,0H2.25","symbolSize":144,"symbolStrokeWidth":4.5,"labelFontSize":16,"labelColor":"#333","labelOffset":10,"rowPadding":0,"padding":0}}}},
{"mark":{"type":"line","strokeWidth":1.3,"interpolate":"monotone"},"encoding":{"y":{"field":"b","type":"quantitative"},"color":{"datum":"C4"}}},
{"data":{"name":"st"},"mark":{"type":"rect"},"encoding":{"x":{"field":"s","type":"quantitative"},"x2":{"field":"e"},"y":{"datum":-12.9},"y2":{"datum":-11.36},"fill":{"field":"c","type":"nominal","scale":null}}}]},
{"width":155,"height":150,"projection":{"type":"identity","scale":0.3333,"translate":[-10,-8.3]},"layer":[
{"data":{"name":"m4"},"mark":{"type":"geoshape","strokeWidth":0},"encoding":{"color":{"field":"properties.v","type":"quantitative","scale":{"domain":[-0.85,-0.025,0.8,1.625,2.45,3.275,4.1,4.925,5.75],"range":["#352A87","#0363E1","#1485D4","#06A7C6","#38B99E","#92BF73","#D9BA56","#FCCE2E","#F9FB0E"]},"legend":{"title":"ERD t-value","titleOrient":"right","titleAngle":90,"titlePadding":15,"titleFontSize":14,"titleFontWeight":"normal","titleColor":"#333","titleAnchor":"middle","titleBaseline":"middle","gradientLength":148,"gradientThickness":12,"gradientStrokeColor":"#333","gradientStrokeWidth":1,"values":[5,4,3,2,1,0],"labelExpr":"datum.value>0?'+'+datum.value:''+datum.value","labelFontSize":14,"labelColor":"#333","offset":4,"padding":0}}}},
{"data":{"name":"mask"},"mark":{"type":"geoshape","fill":"white","strokeWidth":0}},
{"data":{"name":"head"},"mark":{"type":"geoshape","filled":false,"fill":null,"stroke":"#000","strokeWidth":1.6}}]}
]}
